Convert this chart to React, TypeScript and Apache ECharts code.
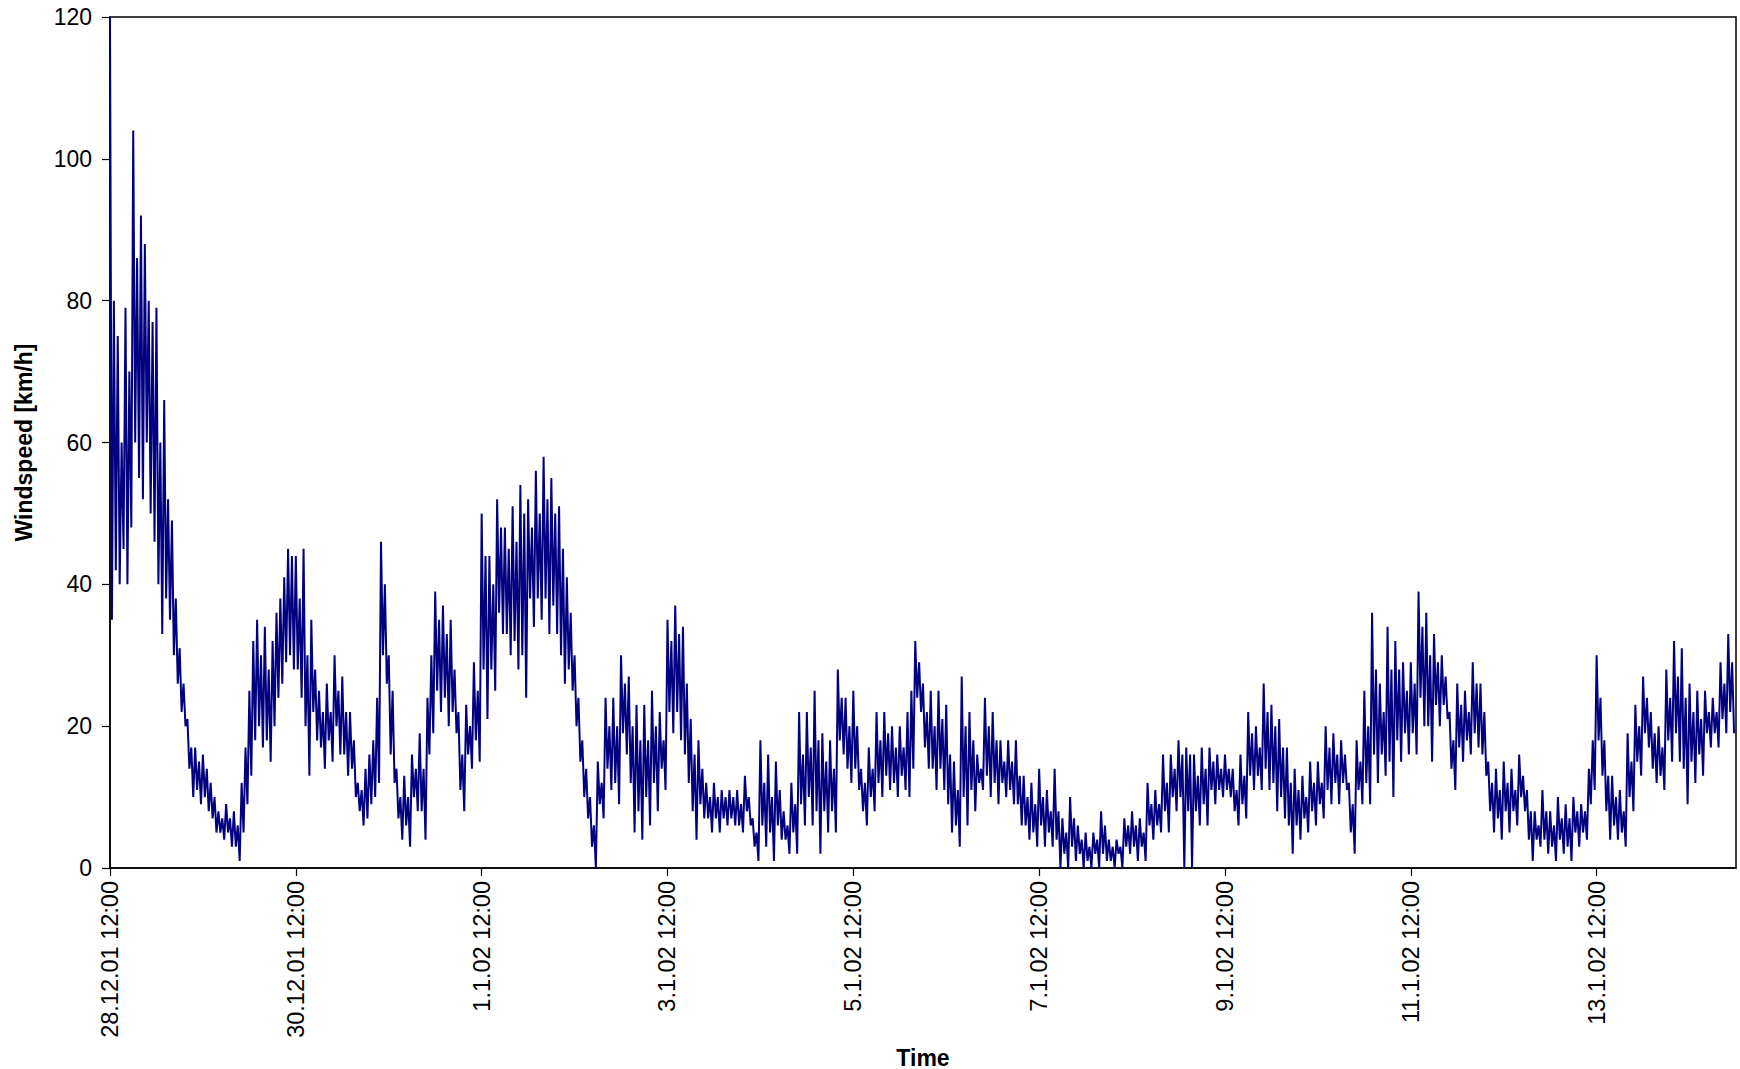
import React, { useEffect, useRef } from "react";
import * as echarts from "echarts";

// Category labels, one every 48 hours from 28.12.01 12:00
const tickLabels = [
  "28.12.01 12:00",
  "30.12.01 12:00",
  "1.1.02 12:00",
  "3.1.02 12:00",
  "5.1.02 12:00",
  "7.1.02 12:00",
  "9.1.02 12:00",
  "11.1.02 12:00",
  "13.1.02 12:00",
];
const hoursPerTick = 48;
const totalHours = 420;
const hoursPerBlock = 2;

// Windspeed [km/h]: per 2-hour block, the values at
// 30-minute steps (peak, trough, second peak, second trough)
const span1 = [
  [120, 35, 80, 42], [75, 40, 60, 45], [79, 40, 70, 48], [104, 60, 86, 55], [92, 52, 88, 60], [80, 50, 77, 46],
  [79, 40, 60, 33], [66, 38, 52, 35], [49, 30, 38, 26], [31, 22, 26, 20], [21, 14, 17, 10], [17, 11, 15, 9],
  [16, 10, 14, 8], [12, 7, 10, 5], [8, 5, 7, 4], [9, 5, 7, 3], [8, 3, 6, 1], [12, 5, 17, 9],
  [25, 13, 32, 18], [35, 20, 30, 17], [34, 18, 28, 15], [32, 20, 36, 24], [38, 26, 41, 29], [45, 30, 44, 28],
];
const span2 = [
  [44, 28, 38, 24], [45, 20, 30, 13], [35, 22, 28, 18], [25, 17, 22, 14], [26, 18, 22, 15], [30, 20, 25, 16],
  [27, 16, 22, 13], [22, 14, 18, 10], [12, 8, 11, 6], [14, 7, 16, 9], [18, 10, 24, 12], [46, 30, 40, 26],
  [30, 16, 25, 12], [14, 7, 10, 4], [13, 6, 10, 3], [16, 10, 14, 8], [19, 8, 14, 4], [24, 16, 30, 19],
  [39, 25, 35, 22], [37, 24, 33, 20], [35, 22, 28, 19], [22, 11, 16, 8], [23, 16, 20, 14], [29, 18, 25, 15],
];
const span3 = [
  [50, 28, 44, 21], [44, 28, 40, 25], [52, 36, 48, 33], [48, 33, 45, 30], [51, 32, 46, 28], [54, 30, 50, 24],
  [52, 38, 48, 34], [56, 38, 50, 35], [58, 38, 52, 33], [55, 37, 50, 33], [51, 30, 45, 26], [41, 28, 36, 25],
  [30, 20, 24, 15], [18, 10, 14, 7], [10, 3, 6, 0], [15, 9, 12, 7], [24, 14, 20, 11], [24, 12, 20, 9],
  [30, 19, 26, 16], [27, 12, 20, 5], [23, 8, 18, 4], [23, 10, 18, 6], [25, 12, 20, 8], [22, 14, 18, 11],
];
const span4 = [
  [35, 22, 32, 19], [37, 22, 33, 18], [34, 16, 26, 12], [21, 8, 16, 4], [18, 9, 14, 7], [12, 7, 10, 5],
  [12, 7, 10, 5], [11, 7, 10, 6], [11, 7, 10, 6], [11, 6, 9, 5], [13, 8, 10, 6], [7, 3, 5, 1],
  [18, 6, 12, 3], [16, 5, 10, 1], [15, 6, 11, 4], [8, 4, 6, 2], [12, 5, 9, 2], [22, 9, 16, 6],
  [22, 10, 17, 6], [25, 8, 18, 2], [19, 8, 15, 5], [18, 8, 14, 5], [28, 18, 24, 16], [24, 14, 20, 12],
];
const span5 = [
  [25, 14, 20, 11], [14, 8, 12, 6], [17, 10, 14, 8], [22, 12, 18, 10], [22, 13, 19, 11], [20, 12, 17, 10],
  [20, 13, 17, 11], [22, 10, 25, 14], [32, 24, 29, 22], [26, 17, 22, 14], [25, 14, 20, 11], [25, 14, 21, 11],
  [23, 9, 16, 5], [15, 6, 11, 3], [27, 10, 20, 6], [22, 11, 18, 8], [16, 12, 14, 11], [24, 13, 20, 10],
  [22, 12, 18, 9], [18, 12, 15, 10], [18, 11, 15, 9], [18, 9, 13, 6], [13, 6, 10, 4], [12, 5, 9, 3],
];
const span6 = [
  [14, 6, 10, 3], [11, 5, 8, 3], [14, 4, 8, 0], [7, 2, 5, 0], [10, 3, 7, 1], [6, 2, 4, 0],
  [5, 1, 3, 0], [5, 2, 4, 0], [8, 2, 6, 1], [4, 1, 3, 0], [4, 2, 3, 0], [7, 3, 6, 2],
  [8, 3, 6, 1], [7, 3, 5, 1], [12, 6, 9, 4], [11, 6, 9, 5], [16, 8, 12, 5], [16, 10, 14, 8],
  [18, 10, 16, 0], [17, 8, 16, 0], [16, 8, 13, 6], [17, 9, 14, 6], [17, 11, 15, 9], [16, 11, 14, 10],
];
const span7 = [
  [16, 11, 14, 10], [14, 8, 11, 6], [16, 9, 13, 7], [22, 13, 19, 11], [20, 13, 17, 11], [26, 14, 22, 11],
  [23, 12, 20, 8], [21, 10, 17, 7], [17, 6, 12, 2], [14, 6, 11, 4], [13, 7, 10, 5], [15, 8, 12, 6],
  [15, 9, 12, 7], [20, 11, 17, 9], [19, 12, 16, 9], [18, 12, 16, 11], [12, 5, 9, 2], [18, 11, 15, 9],
  [25, 12, 20, 9], [36, 16, 28, 12], [26, 16, 22, 13], [34, 15, 28, 10], [32, 18, 28, 15], [29, 19, 25, 16],
];
const span8 = [
  [29, 19, 26, 16], [39, 24, 34, 20], [36, 20, 30, 15], [33, 23, 29, 20], [30, 23, 27, 21], [22, 14, 18, 11],
  [26, 17, 23, 15], [25, 18, 22, 16], [29, 19, 26, 17], [26, 16, 22, 13], [15, 8, 12, 5], [14, 7, 11, 4],
  [15, 8, 12, 5], [14, 8, 11, 6], [16, 10, 13, 8], [11, 4, 8, 1], [8, 4, 6, 3], [11, 4, 8, 2],
  [8, 3, 6, 1], [10, 4, 7, 2], [9, 3, 7, 1], [10, 5, 8, 3], [9, 5, 8, 4], [14, 9, 18, 11],
];
const span9 = [
  [30, 18, 24, 13], [18, 8, 13, 4], [13, 6, 10, 4], [11, 5, 8, 3], [19, 10, 15, 8], [23, 15, 20, 13],
  [27, 19, 24, 17], [22, 14, 19, 12], [20, 13, 17, 11], [28, 18, 24, 15], [32, 19, 27, 15], [31, 14, 24, 9],
  [26, 15, 22, 12], [25, 16, 21, 13], [25, 19, 22, 17], [24, 19, 22, 17], [29, 21, 26, 19], [33, 22, 29, 19],
];

const blocks = [...span1, ...span2, ...span3, ...span4, ...span5, ...span6, ...span7, ...span8, ...span9];

export default function App() {
  const ref = useRef<HTMLDivElement>(null);

  useEffect(() => {
    if (!ref.current) return;
    const chart = echarts.init(ref.current, undefined, { renderer: "svg" });

    const seriesData: number[][] = [];
    blocks.forEach((b, k) => {
      const step = hoursPerBlock / b.length;
      b.forEach((v, j) => {
        seriesData.push([k * hoursPerBlock + j * step, v]);
      });
    });
    const tickValues = tickLabels.map((_, i) => i * hoursPerTick);
    const font = "'Liberation Sans', Arial, sans-serif";

    chart.setOption({
      animation: false,
      backgroundColor: "#ffffff",
      grid: {
        left: 110,
        right: 4,
        top: 17,
        bottom: 201,
        outerBoundsMode: "none",
        show: true,
        borderColor: "#000000",
        borderWidth: 1.5,
        backgroundColor: "transparent",
      },
      xAxis: {
        type: "value",
        min: 0,
        max: totalHours,
        interval: hoursPerTick,
        name: "Time",
        nameLocation: "middle",
        nameGap: 178,
        nameTextStyle: { fontFamily: font, fontSize: 23, fontWeight: "bold", color: "#000" },
        axisLine: { show: true, lineStyle: { color: "#000", width: 1.5 } },
        axisTick: {
          show: true,
          length: 8,
          customValues: tickValues,
          lineStyle: { color: "#000", width: 1.2 },
        },
        splitLine: { show: false },
        axisLabel: {
          customValues: tickValues,
          rotate: 90,
          margin: 13,
          fontFamily: font,
          fontSize: 23.5,
          color: "#000",
          formatter: (v: number) => tickLabels[Math.round(v / hoursPerTick)] ?? "",
        },
      },
      yAxis: {
        type: "value",
        min: 0,
        max: 120,
        interval: 20,
        name: "Windspeed [km/h]",
        nameLocation: "middle",
        nameGap: 75,
        nameTextStyle: { fontFamily: font, fontSize: 23, fontWeight: "bold", color: "#000" },
        axisLine: { show: true, lineStyle: { color: "#000", width: 1.5 } },
        axisTick: { show: true, length: 8, lineStyle: { color: "#000", width: 1.2 } },
        splitLine: { show: false },
        axisLabel: { margin: 18, fontFamily: font, fontSize: 23, color: "#000" },
      },
      series: [
        {
          type: "line",
          data: seriesData,
          showSymbol: false,
          symbol: "none",
          lineStyle: { color: "#000080", width: 2 },
          clip: true,
        },
      ],
    });

    return () => chart.dispose();
  }, []);

  return (
    <div
      ref={ref}
      style={{ position: "fixed", left: 0, top: 0, width: 1740, height: 1069, background: "#fff" }}
    />
  );
}
